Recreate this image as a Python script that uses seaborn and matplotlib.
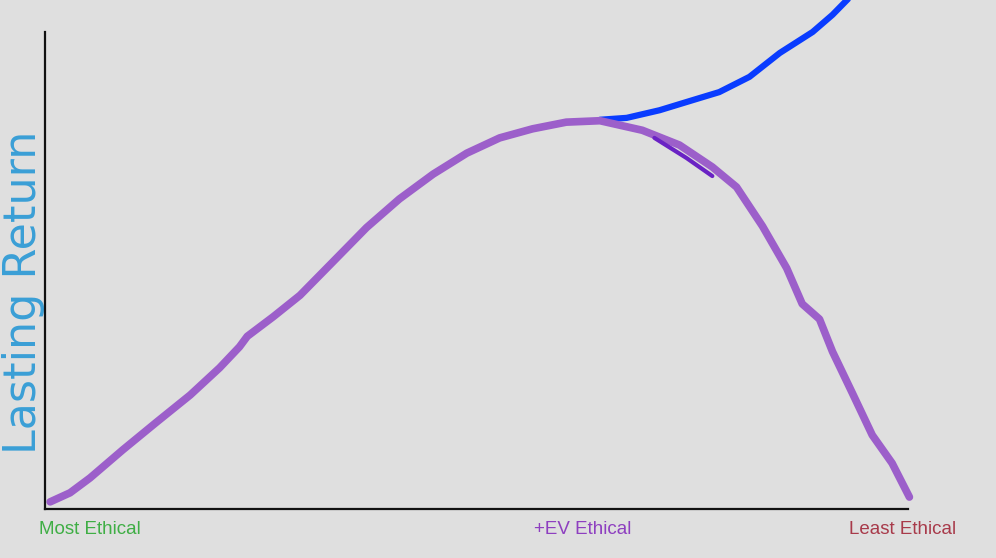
import numpy as np
import matplotlib.pyplot as plt
import seaborn as sns

# curve values (x: 0..10 along the axis, y: 0..10 up the axis)
purple_x = [0.06, 0.29, 0.52, 0.90, 1.29, 1.68, 2.02, 2.25, 2.34, 2.64, 2.95, 3.33, 3.72, 4.10, 4.49,
            4.88, 5.26, 5.64, 6.03, 6.42, 6.91, 7.34, 7.72, 8.00, 8.30, 8.58, 8.76, 8.96, 9.11, 9.34,
            9.57, 9.80, 10.00]
purple_y = [0.15, 0.34, 0.65, 1.24, 1.82, 2.39, 2.96, 3.40, 3.62, 4.03, 4.48, 5.18, 5.90, 6.50, 7.02,
            7.46, 7.78, 7.97, 8.11, 8.14, 7.94, 7.63, 7.17, 6.75, 5.93, 5.05, 4.30, 3.98, 3.30, 2.43,
            1.55, 0.96, 0.25]

blue_x = [6.42, 6.73, 7.11, 7.49, 7.80, 8.15, 8.50, 8.88, 9.11, 9.31]
blue_y = [8.16, 8.20, 8.36, 8.57, 8.74, 9.06, 9.56, 10.00, 10.36, 10.73]

# darker stroke drawn over the falling side
dark_x = [7.05, 7.42, 7.72]
dark_y = [7.78, 7.36, 6.98]

tick_pos = [0.52, 6.22, 9.92]
tick_labels = ['Most Ethical', '+EV Ethical', 'Least Ethical']
tick_colors = ['#3fae45', '#8e3fc0', '#a83a4a']

sns.set_theme(style="white")
plt.rcParams['font.family'] = ['Liberation Sans', 'DejaVu Sans']

bg = '#dfdfdf'
fig = plt.figure(figsize=(9.96, 5.58), dpi=100, facecolor=bg)
ax = fig.add_axes([45 / 996, 1 - 509 / 558, (912 - 45) / 996, 509 / 558])
ax.set_facecolor(bg)

sns.lineplot(x=blue_x, y=blue_y, ax=ax, color='#0a3cff', linewidth=4.5, sort=False,
             estimator=None, clip_on=False, solid_capstyle='round', solid_joinstyle='round')
sns.lineplot(x=purple_x, y=purple_y, ax=ax, color='#9c5fca', linewidth=5.5, sort=False,
             estimator=None, clip_on=False, solid_capstyle='round', solid_joinstyle='round')
sns.lineplot(x=dark_x, y=dark_y, ax=ax, color='#6a22c4', linewidth=3, sort=False,
             estimator=None, solid_capstyle='round')

ax.set_xlim(0, 10.03)
ax.set_ylim(0, 509 / 477 * 10)

for side in ['top', 'right']:
    ax.spines[side].set_visible(False)
for side in ['left', 'bottom']:
    ax.spines[side].set_color('#111111')
    ax.spines[side].set_linewidth(1.6)
ax.spines['left'].set_bounds(0, 10)
ax.spines['bottom'].set_bounds(0, 9.98)

ax.set_yticks([])
ax.set_xticks(tick_pos)
ax.set_xticklabels(tick_labels, fontsize=13.5)
ax.tick_params(axis='x', length=0, pad=9)
for lbl, c in zip(ax.get_xticklabels(), tick_colors):
    lbl.set_color(c)

ax.set_ylabel('Lasting Return', fontsize=32, color='#3a9fd6', fontfamily='DejaVu Sans')
ax.yaxis.set_label_coords(0.0, (509 - 292) / 509)

fig.savefig('out.png', dpi=100, facecolor=bg)
